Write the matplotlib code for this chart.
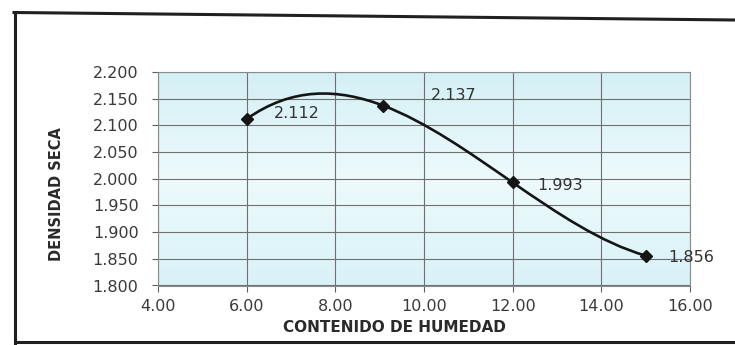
import numpy as np
import matplotlib
matplotlib.use('Agg')
from matplotlib import pyplot as plt
from matplotlib.path import Path
from matplotlib.patches import PathPatch
from matplotlib.lines import Line2D

# compaction test: moisture content vs dry density
humedad = [6.00, 9.08, 12.00, 15.00]
densidad = [2.112, 2.137, 1.993, 1.856]
etiquetas = ['2.112', '2.137', '1.993', '1.856']
xticks = [4, 6, 8, 10, 12, 14, 16]
yticks = [1.800, 1.850, 1.900, 1.950, 2.000, 2.050, 2.100, 2.150, 2.200]

W, H = 735, 345
plt.rcParams['font.family'] = ['DejaVu Sans']

fig = plt.figure(figsize=(W / 100, H / 100), dpi=100)
ax = fig.add_axes([158 / W, 1 - 285.5 / H, (690 - 158) / W, (285.5 - 72) / H])

# light cyan plot area, paler through the middle
c_top = np.array([0.83, 0.94, 0.96])
c_mid = np.array([0.93, 0.98, 0.99])
c_bot = np.array([0.85, 0.95, 0.97])
s = np.linspace(0, 1, 200)[:, None]
grad = np.where(s < 0.5, c_top + (c_mid - c_top) * (s / 0.5),
                c_mid + (c_bot - c_mid) * ((s - 0.5) / 0.5))
ax.imshow(grad[:, None, :], extent=[4, 16, 1.8, 2.2], aspect='auto', zorder=0)

ax.set_xlim(4, 16)
ax.set_ylim(1.8, 2.2)
ax.set_xticks(xticks)
ax.set_yticks(yticks)
ax.set_xticklabels(['%.2f' % v for v in xticks])
ax.set_yticklabels(['%.3f' % v for v in yticks])
ax.grid(True, color='#707070', lw=0.8)
ax.set_axisbelow(True)
for sp in ax.spines.values():
    sp.set_color('#8a8a8a')
    sp.set_linewidth(0.8)
ax.tick_params(axis='both', direction='out', length=4, color='#606060',
               labelsize=11.5, labelcolor='#3a3a3a')
ax.tick_params(axis='y', pad=10)
ax.tick_params(axis='x', pad=6)

# smoothed line: bezier segments with tangents from a cubic through the points
x = np.array(humedad)
y = np.array(densidad)
coef = np.polyfit(x, y, 3)
slope = np.polyval(np.polyder(coef), x)
verts = [(x[0], y[0])]
codes = [Path.MOVETO]
for i in range(len(x) - 1):
    h = (x[i + 1] - x[i]) / 3
    verts += [(x[i] + h, y[i] + h * slope[i]),
              (x[i + 1] - h, y[i + 1] - h * slope[i + 1]),
              (x[i + 1], y[i + 1])]
    codes += [Path.CURVE4] * 3
ax.add_patch(PathPatch(Path(verts, codes), fill=False, ec='#151515', lw=1.9,
                       zorder=3, clip_on=False))
ax.plot(humedad, densidad, ls='none', marker='D', ms=6, color='#151515', zorder=4)

offsets = [(27, 5), (48, 10), (25, -3), (23, -2)]
for xi, yi, t, off in zip(humedad, densidad, etiquetas, offsets):
    ax.annotate(t, (xi, yi), xytext=off, textcoords='offset pixels',
                ha='left', va='center', fontsize=11.5, color='#333333', zorder=5)

fig.text(394 / W, 1 - 327 / H, 'CONTENIDO DE HUMEDAD', ha='center', va='center',
         fontsize=11, fontweight='bold', color='#2a2a2a')
fig.text(57 / W, 1 - 194 / H, 'DENSIDAD SECA', ha='center', va='center',
         rotation=90, fontsize=10.5, fontweight='bold', color='#2a2a2a')

# outer frame around the chart
def px_line(x0, y0, x1, y1):
    fig.add_artist(Line2D([x0 / W, x1 / W], [1 - y0 / H, 1 - y1 / H],
                          transform=fig.transFigure, color='#202020', lw=2.2))

px_line(14, 12.5, 735, 20)
px_line(15, 12, 15, 345)
px_line(15, 342, 735, 342)

plt.savefig('out.png', dpi=100)
